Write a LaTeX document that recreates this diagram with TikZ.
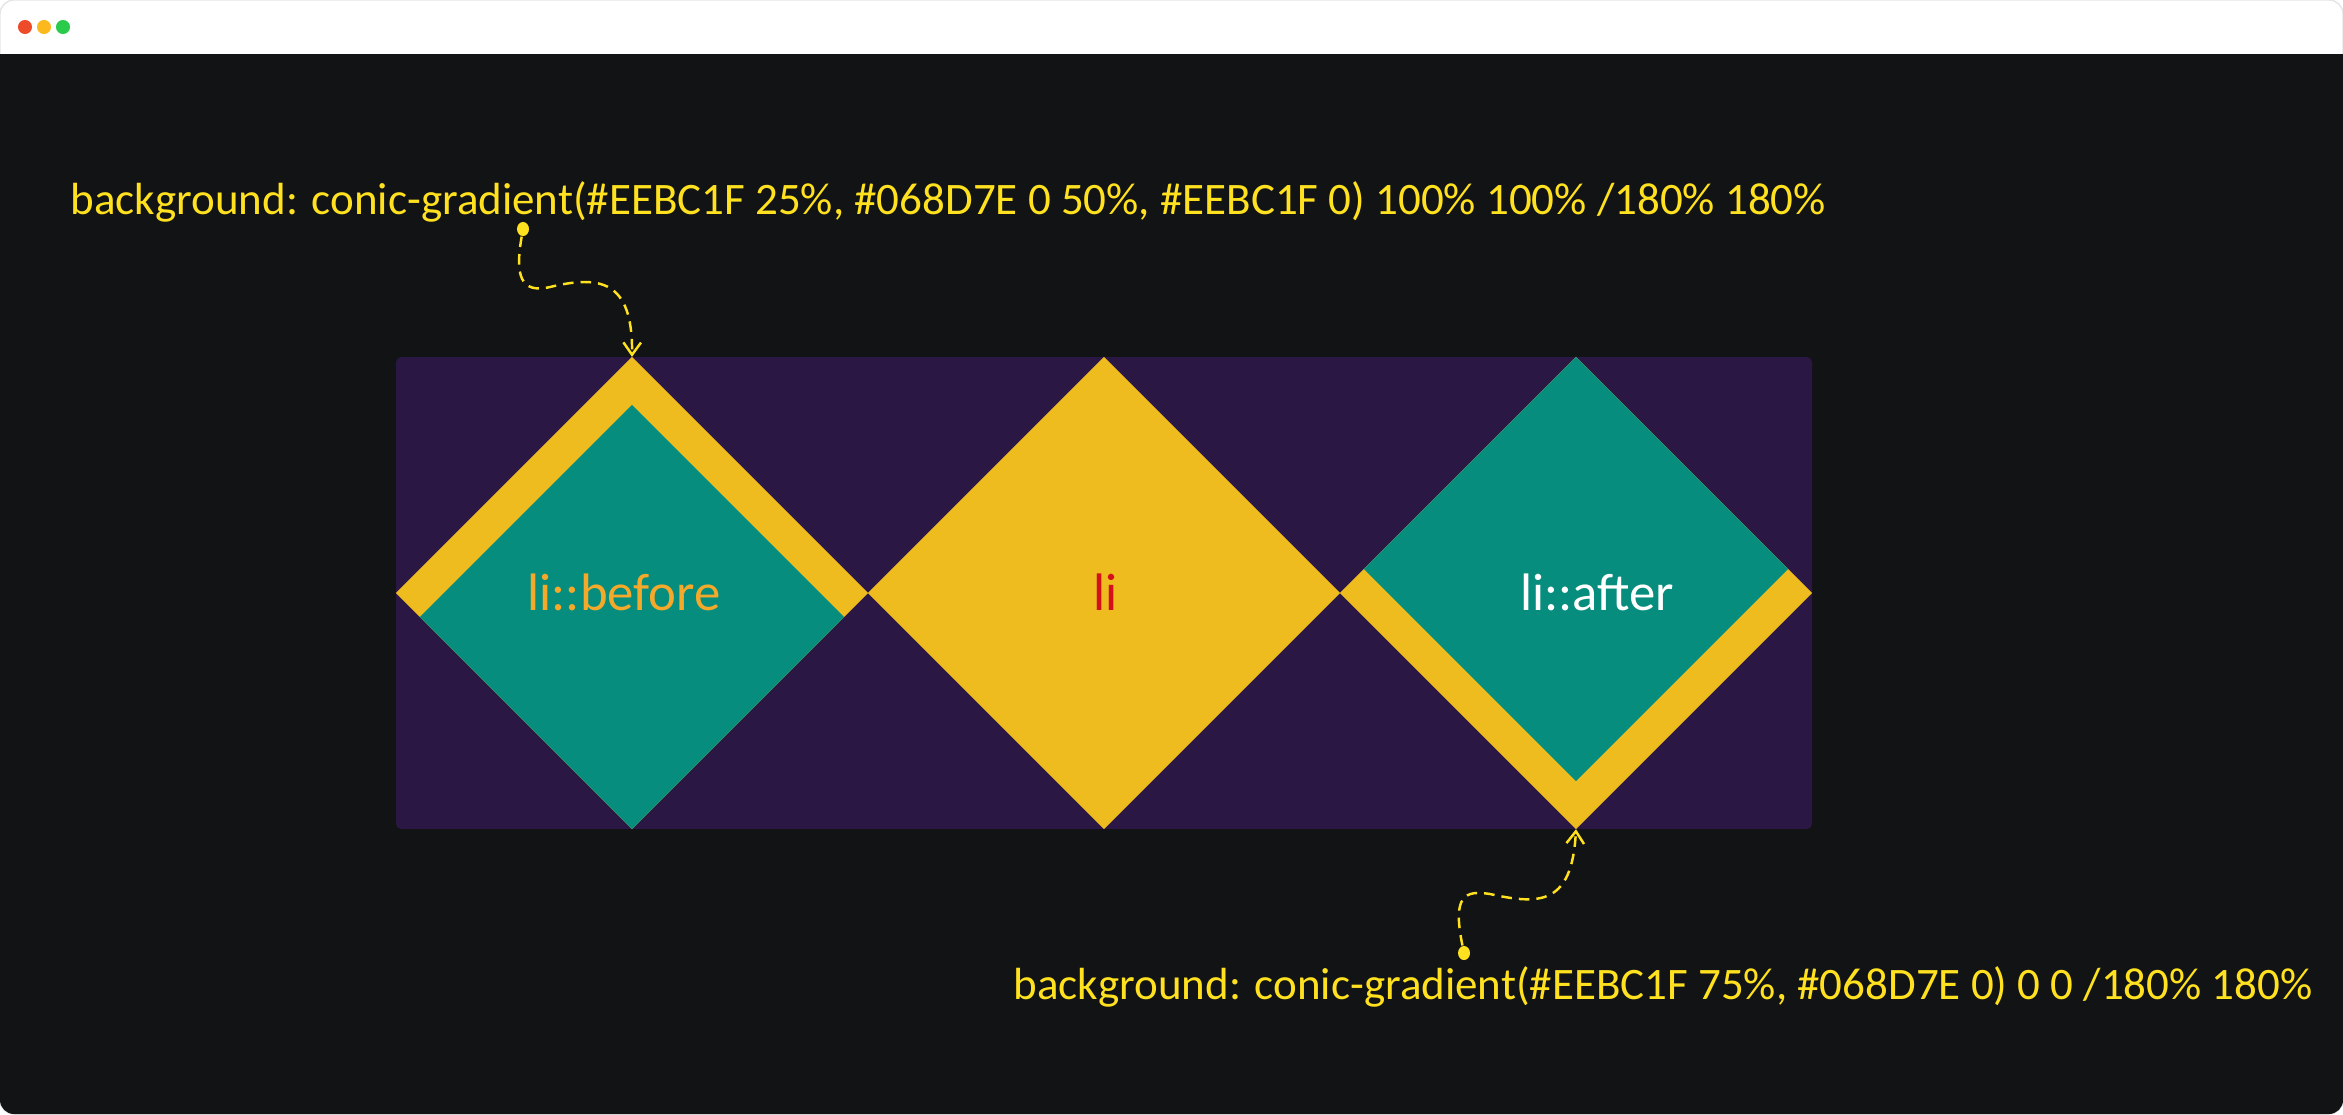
\documentclass[tikz,border=0pt]{standalone}
\usepackage{fontspec}
\setmainfont{Carlito}
\usetikzlibrary{arrows.meta}
\usetikzlibrary{shapes.geometric}
\definecolor{winbg}{HTML}{121315}
\definecolor{boxbg}{HTML}{2B1744}
\definecolor{gold}{HTML}{EEBC1F}
\definecolor{teal2}{HTML}{068D7E}
\definecolor{noteyellow}{HTML}{FFE11F}
\definecolor{labelorange}{HTML}{F5A92A}
\definecolor{labelred}{HTML}{D4101C}
\definecolor{dotred}{HTML}{EE4B2B}
\definecolor{dotyellow}{HTML}{FBB91E}
\definecolor{dotgreen}{HTML}{2ACB4B}
\tikzset{tile/.style={diamond, aspect=1, inner sep=0pt, outer sep=0pt, minimum size=4.72cm}}
\tikzset{smalltile/.style={diamond, aspect=1, inner sep=0pt, outer sep=0pt, minimum size=4.24cm}}
\tikzset{notetext/.style={text=noteyellow, inner sep=0pt, font=\fontsize{12.8}{15}\selectfont}}
\tikzset{tilelabel/.style={font=\fontsize{15}{17}\selectfont}}
\tikzset{dotmark/.style={ellipse, fill=noteyellow, inner sep=0pt, minimum width=3.4pt, minimum height=4pt}}
\tikzset{conn/.style={draw=noteyellow, line width=0.7pt, dash pattern=on 3pt off 2pt,
    -{Straight Barb[length=3.5pt,width=5pt]}}}

\begin{document}
\begin{tikzpicture}[x=0.01cm, y=-0.01cm]

                \useasboundingbox (0,0) rectangle (2343,1114);
                \fill[white, draw=black!10, rounded corners=4pt] (0,0) rectangle (2343,1114);
                \fill[winbg, rounded corners=4pt] (0,54) rectangle (2343,1114);
                \fill[winbg] (0,54) rectangle (2343,80);
                \fill[dotred] (25,27) circle (2pt);
                \fill[dotyellow] (44,27) circle (2pt);
                \fill[dotgreen] (63,27) circle (2pt);

                \fill[boxbg, rounded corners=1.5pt] (396,357) rectangle (1812,829);

                \node[tile, fill=gold] (before) at (632,593) {};
                \node[smalltile, fill=teal2] (beforein) at (632,617) {};
                \node[tile, fill=gold] (li) at (1104,593) {};
                \node[tile, fill=gold] (after) at (1576,593) {};
                \node[smalltile, fill=teal2] (afterin) at (1576,569) {};

                \node[tilelabel, text=labelorange] (beforelabel) at (624,592) {li::before};
                \node[tilelabel, text=labelred] (lilabel) at (1106,592) {li};
                \node[tilelabel, text=white] (afterlabel) at (1597,592) {li::after};

                \node[notetext, anchor=west] (topnote) at (70,202) {background: conic-gradient(\#EEBC1F 25\%, \#068D7E 0 50\%, \#EEBC1F 0) 100\% 100\% /180\% 180\%};
                \node[notetext, anchor=west] (bottomnote) at (1013,987) {background: conic-gradient(\#EEBC1F 75\%, \#068D7E 0) 0 0 /180\% 180\%};

                \node[dotmark] (A) at (523,229) {};
                \node[dotmark] (B) at (1464,953) {};

                \draw[conn] (A) .. controls (515,275) and (520,294) .. (550,287) .. controls (600,275) and (633,280) .. (before.north);
                \draw[conn] (B) .. controls (1452,895) and (1465,890) .. (1490,894) .. controls (1540,905) and (1572,905) .. (after.south);

\end{tikzpicture}
\end{document}
